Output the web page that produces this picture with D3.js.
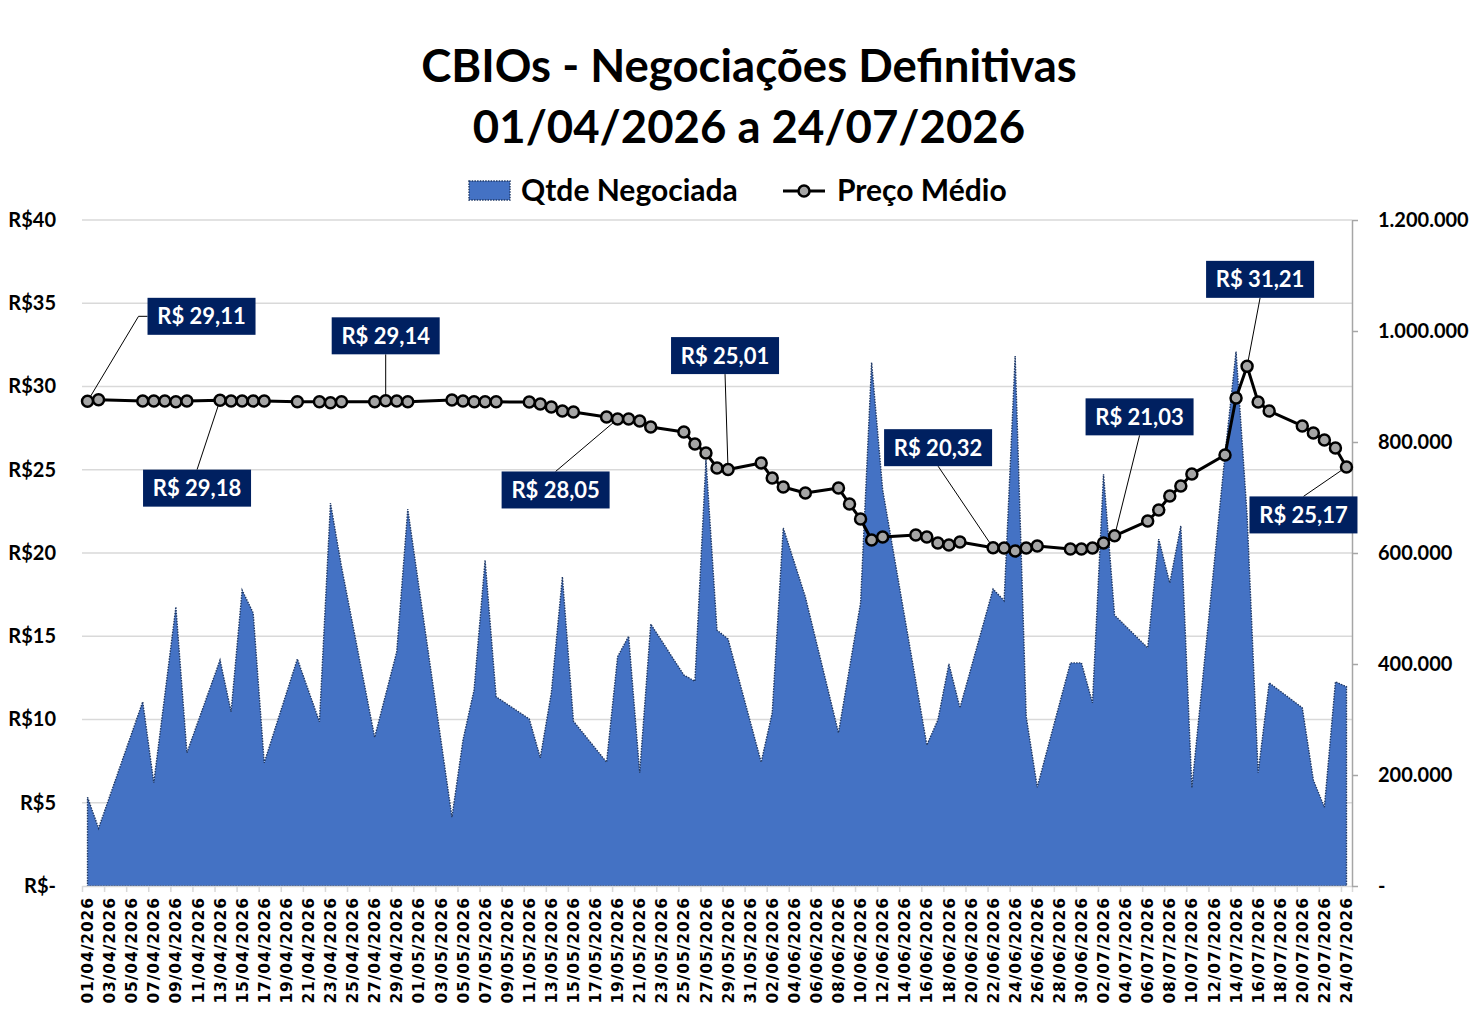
<!DOCTYPE html>
<html>
<head>
<meta charset="utf-8">
<script src="https://cdn.jsdelivr.net/npm/d3@7"></script>
<style>
  body { margin: 0; background: #fff; }
  svg { display: block; }
  text { font-family: Lato, "Open Sans", sans-serif; font-weight: 700; fill: #000; }
</style>
</head>
<body>
<script>
// pregões (dias com negociação)
var dias = [
  "01/04/2026","02/04/2026","06/04/2026","07/04/2026","08/04/2026","09/04/2026","10/04/2026",
  "13/04/2026","14/04/2026","15/04/2026","16/04/2026","17/04/2026","20/04/2026","22/04/2026",
  "23/04/2026","24/04/2026","27/04/2026","28/04/2026","29/04/2026","30/04/2026",
  "04/05/2026","05/05/2026","06/05/2026","07/05/2026","08/05/2026","11/05/2026","12/05/2026",
  "13/05/2026","14/05/2026","15/05/2026","18/05/2026","19/05/2026","20/05/2026","21/05/2026",
  "22/05/2026","25/05/2026","26/05/2026","27/05/2026","28/05/2026","29/05/2026",
  "01/06/2026","02/06/2026","03/06/2026","05/06/2026","08/06/2026","09/06/2026","10/06/2026",
  "11/06/2026","12/06/2026","15/06/2026","16/06/2026","17/06/2026","18/06/2026","19/06/2026",
  "22/06/2026","23/06/2026","24/06/2026","25/06/2026","26/06/2026","29/06/2026","30/06/2026",
  "01/07/2026","02/07/2026","03/07/2026","06/07/2026","07/07/2026","08/07/2026","09/07/2026",
  "10/07/2026","13/07/2026","14/07/2026","15/07/2026","16/07/2026","17/07/2026","20/07/2026",
  "21/07/2026","22/07/2026","23/07/2026","24/07/2026"
];

// Qtde Negociada (CBIOs)
var qtde = [
  160000,104000,332000,186000,344000,503000,240000,
  407000,314000,533000,492000,222000,409000,296000,
  690000,575000,268000,345000,422000,679000,
  124000,263000,353000,587000,341000,301000,231000,
  348000,557000,297000,223000,413000,450000,204000,
  472000,380000,369000,768000,461000,445000,
  223000,312000,645000,521000,276000,393000,510000,
  943000,714000,369000,254000,299000,400000,321000,
  535000,514000,955000,305000,178000,402000,402000,
  330000,742000,488000,429000,625000,546000,649000,
  177000,777000,963000,668000,204000,366000,321000,
  191000,142000,368000,359000
];

// Preço Médio (R$)
var preco = [
  29.11,29.20,29.13,29.13,29.13,29.08,29.13,
  29.18,29.13,29.13,29.13,29.13,29.08,29.08,
  29.03,29.08,29.08,29.14,29.13,29.08,
  29.19,29.13,29.08,29.08,29.08,29.07,28.95,
  28.77,28.53,28.47,28.17,28.05,28.05,27.93,
  27.57,27.27,26.55,26.01,25.11,25.01,
  25.41,24.50,23.96,23.60,23.90,22.94,22.04,
  20.78,20.96,21.08,20.96,20.60,20.48,20.66,
  20.32,20.30,20.12,20.30,20.42,20.24,20.24,
  20.30,20.60,21.03,21.92,22.58,23.42,24.02,
  24.74,25.89,29.31,31.21,29.07,28.53,27.63,
  27.21,26.79,26.31,25.17
];

// pontos com rótulo de preço
var destaques = ["01/04/2026","13/04/2026","28/04/2026","19/05/2026","29/05/2026",
                 "22/06/2026","03/07/2026","15/07/2026","24/07/2026"];
// deslocamento de cada caixa de rótulo em relação ao ponto
var desloc = [[114,-85],[-23,88],[0,-65],[-62,71],[-3,-114],[-55,-100],[25,-119],[13,-87],[-43,48]];

var width = 1480, height = 1022;
var plotL = 82, plotR = 1352, plotT = 220, plotB = 886;

var parse = d3.utcParse("%d/%m/%Y");
var fmtDia = d3.utcFormat("%d/%m/%Y");
var br = d3.formatLocale({decimal: ",", thousands: ".", grouping: [3], currency: ["R$ ", ""]});
var fmtPreco = br.format("$,.2f");
var fmtQtde = br.format(",.0f");

var dados = dias.map(function (d, i) {
  return { data: parse(d), qtde: qtde[i], preco: preco[i] };
});

var ini = parse(dias[0]), fim = parse(dias[dias.length - 1]);
var meioDia = 12 * 3600 * 1000;

var x = d3.scaleUtc()
  .domain([new Date(+ini - meioDia), new Date(+fim + meioDia)])
  .range([plotL, plotR]);
var yP = d3.scaleLinear().domain([0, 40]).range([plotB, plotT]);
var yQ = d3.scaleLinear().domain([0, 1200000]).range([plotB, plotT]);

var svg = d3.select("body").append("svg")
  .attr("width", width)
  .attr("height", height);

svg.append("rect").attr("width", width).attr("height", height).attr("fill", "#fff");

// título
var titulo = svg.append("text")
  .attr("x", 749).attr("text-anchor", "middle")
  .style("font-size", "45.5px");
titulo.append("tspan").attr("x", 749).attr("y", 82).text("CBIOs - Negociações Definitivas");
titulo.append("tspan").attr("x", 749).attr("y", 143).text("01/04/2026 a 24/07/2026");

// linhas de grade
svg.append("g").selectAll("line")
  .data(d3.range(5, 41, 5))
  .enter().append("line")
  .attr("x1", plotL).attr("x2", plotR)
  .attr("y1", d => yP(d)).attr("y2", d => yP(d))
  .attr("stroke", "#d9d9d9").attr("stroke-width", 1.5);

// área - Qtde Negociada
var area = d3.area()
  .x(d => x(d.data))
  .y0(yQ(0))
  .y1(d => yQ(d.qtde));

svg.append("path")
  .datum(dados)
  .attr("d", area)
  .attr("fill", "#4472c4")
  .attr("stroke", "#1f3864")
  .attr("stroke-width", 1.4)
  .attr("stroke-dasharray", "1.5,1.2");

// eixo x
var rotulosX = d3.utcDay.range(ini, new Date(+fim + 1), 2);
var marcasX = rotulosX.map(d => new Date(+d - meioDia)).concat([new Date(+fim + meioDia)]);

var gx = svg.append("g").attr("transform", "translate(0," + plotB + ")");
gx.call(d3.axisBottom(x).tickValues(marcasX).tickFormat("").tickSize(6).tickSizeOuter(0));
gx.selectAll("line").attr("stroke", "#d9d9d9").attr("stroke-width", 1.5);
gx.select(".domain").attr("stroke", "#d9d9d9").attr("stroke-width", 1.5);

svg.append("g").selectAll("text")
  .data(rotulosX)
  .enter().append("text")
  .attr("transform", d => "translate(" + x(d) + ",897) rotate(-90)")
  .attr("text-anchor", "end")
  .attr("dy", "0.36em")
  .style("font-family", "'DejaVu Sans', Verdana, sans-serif")
  .style("font-size", "15.5px")
  .style("letter-spacing", "0.9px")
  .text(d => fmtDia(d));

// eixo esquerdo (R$)
var gl = svg.append("g").attr("transform", "translate(" + plotL + ",0)");
gl.call(d3.axisLeft(yP).tickValues(d3.range(0, 41, 5))
  .tickFormat(d => d === 0 ? "R$-" : "R$" + d).tickSize(0).tickPadding(26));
gl.select(".domain").remove();
gl.selectAll("text").style("font-size", "20px").style("font-family", "Lato, sans-serif").style("font-weight", 700).attr("fill", "#000");

// eixo direito (Qtde)
var gr = svg.append("g").attr("transform", "translate(" + plotR + ",0)");
gr.call(d3.axisRight(yQ).tickValues(d3.range(0, 1200001, 200000))
  .tickFormat(d => d === 0 ? "-" : fmtQtde(d)).tickSize(6).tickSizeOuter(0).tickPadding(20));
gr.select(".domain").attr("stroke", "#a6a6a6").attr("stroke-width", 1.5);
gr.selectAll("line").attr("stroke", "#a6a6a6").attr("stroke-width", 1.5);
gr.selectAll("text").style("font-size", "20px").style("font-family", "Lato, sans-serif").style("font-weight", 700).attr("fill", "#000");

// linha - Preço Médio
var linha = d3.line()
  .x(d => x(d.data))
  .y(d => yP(d.preco));

svg.append("path")
  .datum(dados)
  .attr("d", linha)
  .attr("fill", "none")
  .attr("stroke", "#000")
  .attr("stroke-width", 3)
  .attr("stroke-linejoin", "round");

// rótulos de dados (linhas de chamada primeiro)
var bw = 108, bh = 37;
var rot = destaques.map(function (d, i) {
  var p = dados[dias.indexOf(d)];
  var px = x(p.data), py = yP(p.preco);
  var cx = px + desloc[i][0], cy = py + desloc[i][1];
  var pts;
  if (Math.abs(desloc[i][0]) > bw * 0.8) {
    // caixa ao lado do ponto: chamada com cotovelo
    var ex = desloc[i][0] > 0 ? cx - bw / 2 : cx + bw / 2;
    var el = desloc[i][0] > 0 ? ex - 9 : ex + 9;
    pts = [[px, py], [el, cy], [ex, cy]];
  } else {
    pts = [[px, py], [cx, desloc[i][1] < 0 ? cy + bh / 2 : cy - bh / 2]];
  }
  return { p: p, cx: cx, cy: cy, pts: pts };
});

svg.append("g").selectAll("path")
  .data(rot)
  .enter().append("path")
  .attr("d", d => d3.line()(d.pts))
  .attr("fill", "none")
  .attr("stroke", "#000")
  .attr("stroke-width", 1);

svg.append("g").selectAll("circle")
  .data(dados)
  .enter().append("circle")
  .attr("cx", d => x(d.data))
  .attr("cy", d => yP(d.preco))
  .attr("r", 5.5)
  .attr("fill", "#a5a5a5")
  .attr("stroke", "#000")
  .attr("stroke-width", 2.5);

var caixas = svg.append("g").selectAll("g")
  .data(rot)
  .enter().append("g")
  .attr("transform", d => "translate(" + d.cx + "," + d.cy + ")");
caixas.append("rect")
  .attr("x", -bw / 2).attr("y", -bh / 2)
  .attr("width", bw).attr("height", bh)
  .attr("fill", "#002060");
caixas.append("text")
  .attr("text-anchor", "middle")
  .attr("dy", "0.36em")
  .style("font-size", "22px")
  .style("fill", "#fff")
  .text(d => fmtPreco(d.p.preco));

// legenda
var leg = svg.append("g");
leg.append("rect")
  .attr("x", 469).attr("y", 181).attr("width", 41).attr("height", 19)
  .attr("fill", "#4472c4").attr("stroke", "#1f3864")
  .attr("stroke-width", 1.4).attr("stroke-dasharray", "1.5,1.2");
leg.append("text").attr("x", 521).attr("y", 201).style("font-size", "30px").text("Qtde Negociada");
leg.append("line")
  .attr("x1", 783).attr("x2", 825).attr("y1", 191).attr("y2", 191)
  .attr("stroke", "#000").attr("stroke-width", 3);
leg.append("circle")
  .attr("cx", 804).attr("cy", 191).attr("r", 5.5)
  .attr("fill", "#a5a5a5").attr("stroke", "#000").attr("stroke-width", 2.5);
leg.append("text").attr("x", 837).attr("y", 201).style("font-size", "30px").text("Preço Médio");
</script>
</body>
</html>
